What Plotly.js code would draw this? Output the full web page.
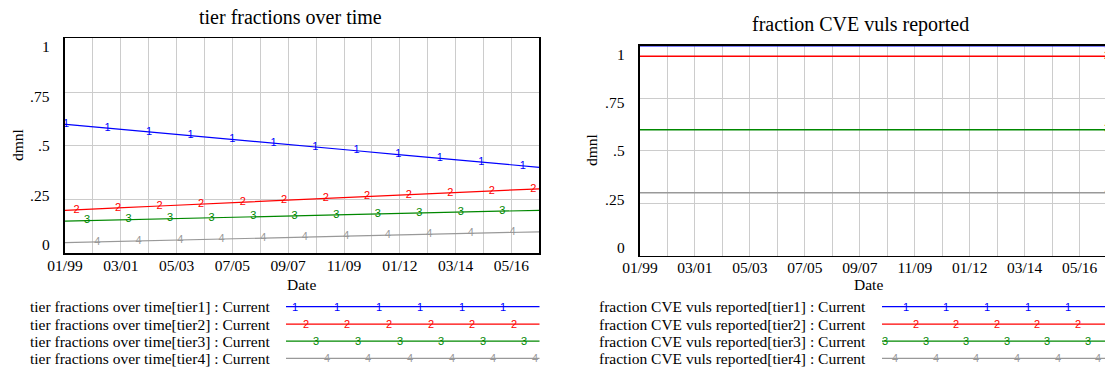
<!DOCTYPE html>
<html><head><meta charset="utf-8">
<script src="https://cdn.plot.ly/plotly-3.0.1.min.js"></script>
<style>html,body{margin:0;padding:0;background:#fff}#chart{width:1105px;height:369px}</style>
</head><body><div id="chart"></div>
<script>
// ---------------- data ----------------
const tickMonths = [0, 26, 52, 78, 104, 130, 156, 182, 208];
const tickLabels = ['01/99', '03/01', '05/03', '07/05', '09/07', '11/09', '01/12', '03/14', '05/16'];
const yTickVals = [0, 0.25, 0.5, 0.75, 1];
const yTickLabels = ['0', '.25', '.5', '.75', '1'];
const tierNames = ['tier1', 'tier2', 'tier3', 'tier4'];
const markerDigits = ['1', '2', '3', '4'];
const chartTitles = ['tier fractions over time', 'fraction CVE vuls reported'];

// left chart: tier fractions over time (x = months since 01/99)
const tf1_x = [0, 0.5, 19.8, 39.2, 58.5, 77.9, 97.2, 116.6, 135.9, 155.3, 174.6, 194, 213.3, 221];
const tf1_y = [0.6, 0.6, 0.582, 0.565, 0.547, 0.53, 0.512, 0.494, 0.477, 0.459, 0.442, 0.424, 0.407, 0.4];
const tf2_x = [0, 5.4, 24.7, 44.1, 63.4, 82.8, 102.1, 121.5, 140.8, 160.2, 179.5, 198.9, 218.2, 221];
const tf2_y = [0.2, 0.202, 0.211, 0.22, 0.229, 0.237, 0.246, 0.255, 0.264, 0.272, 0.281, 0.29, 0.299, 0.3];
const tf3_x = [0, 10.3, 29.6, 49, 68.3, 87.7, 107, 126.4, 145.7, 165.1, 184.4, 203.8, 221];
const tf3_y = [0.15, 0.152, 0.157, 0.161, 0.165, 0.17, 0.174, 0.179, 0.183, 0.187, 0.192, 0.196, 0.2];
const tf4_x = [0, 15, 34.3, 53.7, 73, 92.4, 111.7, 131.1, 150.4, 169.8, 189.1, 208.5, 221];
const tf4_y = [0.05, 0.053, 0.058, 0.062, 0.067, 0.071, 0.075, 0.08, 0.084, 0.088, 0.093, 0.097, 0.1];

// right chart: fraction CVE vuls reported
const cve_x = [0, 221];
const cve1_y = [1, 1];
const cve2_y = [0.95, 0.95];
const cve3_y = [0.6, 0.6];
const cve4_y = [0.3, 0.3];

// ---------------- style ----------------
const W = 1105, H = 369;
const colors = ['#0000ff', '#ff0000', '#008800', '#999999'];
const serif = 'Liberation Serif, Times New Roman, serif';
const sans = 'Liberation Sans, Arial, sans-serif';
const grid = '#cccccc';
const px = v => v / W;
const py = v => 1 - v / H;
const labelPos = v => 0.04 + 0.92 * v;   // Vensim draws y labels slightly inset

const leftSeries = [[tf1_x, tf1_y], [tf2_x, tf2_y], [tf3_x, tf3_y], [tf4_x, tf4_y]];
const rightSeries = [[cve_x, cve1_y], [cve_x, cve2_y], [cve_x, cve3_y], [cve_x, cve4_y]];

const traces = [];
leftSeries.forEach(([x, y], i) => {
  traces.push({
    x, y, xaxis: 'x', yaxis: 'y', type: 'scatter', mode: 'lines+text',
    text: x.map((_, k) => (k === 0 || k === x.length - 1) ? '' : markerDigits[i]),
    textposition: 'middle center',
    textfont: {family: sans, size: 11, color: colors[i]},
    line: {color: colors[i], width: 1.2}, showlegend: false, hoverinfo: 'skip'
  });
});
rightSeries.forEach(([x, y], i) => {
  traces.push({
    x, y, xaxis: 'x2', yaxis: 'y2', type: 'scatter', mode: 'lines+text',
    text: x.map((_, k) => (k === x.length - 1) ? markerDigits[i] : ''),
    textposition: 'middle center',
    textfont: {family: sans, size: 11, color: colors[i]},
    line: {color: colors[i], width: 1.5}, showlegend: false, hoverinfo: 'skip'
  });
});

const xBase = {
  tickmode: 'array', tickvals: tickMonths, ticktext: tickLabels,
  showgrid: true, gridcolor: grid, gridwidth: 1,
  minor: {tickmode: 'linear', tick0: 0, dtick: 13, showgrid: true, gridcolor: grid, gridwidth: 1, ticks: ''},
  showline: true, linecolor: '#000', linewidth: 1.6, zeroline: false, ticks: '',
  ticklabelstandoff: -3,
  tickfont: {family: serif, size: 15.5, color: '#000'}, fixedrange: true
};
const yBase = {
  range: [0, 1], tickmode: 'array', tickvals: [0.25, 0.5, 0.75], showticklabels: false,
  showgrid: true, gridcolor: grid, gridwidth: 1,
  showline: true, linecolor: '#000', linewidth: 1.6, zeroline: false, ticks: '', fixedrange: true
};

const annotations = [];
const ann = (o) => annotations.push(Object.assign({showarrow: false, xref: 'paper', yref: 'paper',
  xanchor: 'center', yanchor: 'middle',
  font: {family: serif, size: 15.5, color: '#000'}}, o));

// titles and axis titles
ann({text: chartTitles[0], x: px(290), y: py(17.5), font: {family: serif, size: 20, color: '#000'}});
ann({text: chartTitles[1], x: px(860), y: py(24), font: {family: serif, size: 20, color: '#000'}});
ann({text: 'dmnl', x: px(17), y: py(145), textangle: -90});
ann({text: 'dmnl', x: px(591), y: py(150), textangle: -90});
ann({text: 'Date', x: px(301), y: py(284)});
ann({text: 'Date', x: px(868), y: py(284)});

// y tick labels
yTickVals.forEach((v, k) => {
  ann({text: yTickLabels[k], x: px(52), xanchor: 'right', yref: 'y', y: labelPos(v)});
  ann({text: yTickLabels[k], x: px(627), xanchor: 'right', yref: 'y2', y: labelPos(v)});
});

// legends
const legendRows = [306.7, 324.2, 341.2, 358.4];
const legends = [
  {title: chartTitles[0], textRight: 272, x0: 286, x1: 539.5, first: 295.3, step: 41.6, off: [0, 10.5, 21, 31.5]},
  {title: chartTitles[1], textRight: 867.5, x0: 882, x1: 1106, first: 885, step: 40.6, off: [20.7, 30.6, 0, 10.2]}
];
const shapes = [];
legends.forEach(L => {
  tierNames.forEach((t, i) => {
    const yy = legendRows[i];
    ann({text: L.title + '[' + t + '] : Current', x: px(L.textRight), xanchor: 'right', y: py(yy)});
    shapes.push({type: 'line', xref: 'paper', yref: 'paper', x0: px(L.x0), x1: px(L.x1), y0: py(yy), y1: py(yy),
      line: {color: colors[i], width: 1.2}});
    for (let m = L.first + L.off[i]; m <= L.x1 + 1; m += L.step) {
      ann({text: markerDigits[i], x: px(m), y: py(yy), font: {family: sans, size: 11, color: colors[i]}});
    }
  });
});

const layout = {
  width: W, height: H, margin: {l: 0, r: 0, t: 0, b: 0},
  paper_bgcolor: '#fff', plot_bgcolor: '#fff', showlegend: false,
  xaxis: Object.assign({}, xBase, {domain: [px(65), px(539.3)], range: [0, 221], anchor: 'y', mirror: true}),
  yaxis: Object.assign({}, yBase, {domain: [py(253.3), py(38.3)], anchor: 'x', mirror: true}),
  xaxis2: Object.assign({}, xBase, {domain: [px(640), 1], range: [0, 220], anchor: 'y2', mirror: true}),
  yaxis2: Object.assign({}, yBase, {domain: [py(255.7), py(45.7)], anchor: 'x2', mirror: false}),
  annotations, shapes
};

Plotly.newPlot('chart', traces, layout, {staticPlot: true, displayModeBar: false});
</script>
</body></html>
